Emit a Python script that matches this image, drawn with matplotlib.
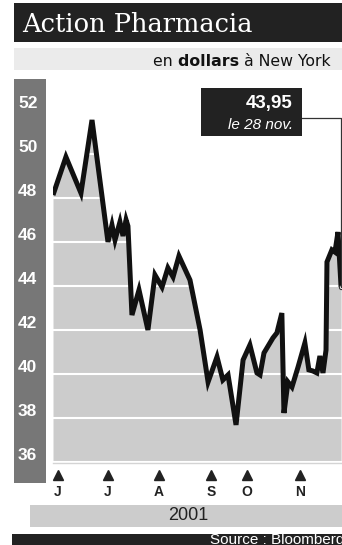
import matplotlib
matplotlib.use("Agg")
import matplotlib.pyplot as plt
from matplotlib.patches import Rectangle
from matplotlib.lines import Line2D
import matplotlib.transforms as mtransforms

# ---- data ----
days = [0, 5.5, 11.9, 16.6, 23.4, 25.1, 26.4, 28.5, 29.8, 31.1, 31.9, 33.6,
        36.6, 40.4, 43.4, 46.4, 48.9, 51.1, 53.6, 58.3, 62.6, 66.0, 69.8,
        72.3, 74.5, 77.9, 80.9, 83.8, 86.8, 88.1, 89.8, 93.6, 95.3, 97.4,
        98.3, 100.0, 101.7, 104.3, 107.2, 108.9, 110.6, 112.3, 113.6, 114.9,
        116.2, 116.6, 118.7, 120.0, 121.3, 122.6]
prices = [48.12, 49.85, 48.21, 51.53, 45.99, 46.76, 46.08, 46.9, 46.26, 46.99,
          46.71, 42.67, 43.81, 41.99, 44.49, 43.94, 44.81, 44.4, 45.35, 44.26,
          41.99, 39.63, 40.77, 39.72, 39.95, 37.68, 40.63, 41.31, 40.04, 39.95,
          40.95, 41.63, 41.86, 42.76, 38.22, 39.63, 39.4, 40.31, 41.4, 40.18,
          40.13, 40.04, 40.81, 40.04, 41.08, 45.08, 45.63, 45.53, 46.44, 43.95]
yticks = [36, 38, 40, 42, 44, 46, 48, 50, 52]
month_pos = [2.1, 23.4, 45.1, 67.2, 82.6, 105.1]
month_labels = ["J", "J", "A", "S", "O", "N"]
title = "Action Pharmacia"
year_label = "2001"
last_value_label = "43,95"
last_date_label = "le 28 nov."
source = "Source : Bloomberg"

W, H = 342, 545
fig = plt.figure(figsize=(W / 100, H / 100), dpi=100)
fig.patch.set_facecolor("white")


def fx(x):
    return x / W


def fy(y):
    return 1 - y / H


def prect(x0, y0, x1, y1, color, z=0):
    r = Rectangle((fx(x0), fy(y1)), (x1 - x0) / W, (y1 - y0) / H,
                  transform=fig.transFigure, facecolor=color, edgecolor="none",
                  zorder=z)
    fig.patches.append(r)
    return r


# title bar
prect(14, 3, 342, 42, "#222222")
fig.text(fx(22), fy(32.5), title, family="DejaVu Serif", size=18.5,
         color="white", va="baseline", ha="left")

# subtitle bar
prect(14, 48, 342, 70, "#ebebeb")
renderer = fig.canvas.get_renderer()
sub_parts = [("à New York", "normal"), ("dollars ", "bold"), ("en ", "normal")]
xr = 331
for txt, wt in sub_parts:
    t = fig.text(fx(xr), fy(66.5), txt, family="DejaVu Sans", size=11.3,
                 weight=wt, color="#111111", ha="right", va="baseline")
    bb = t.get_window_extent(renderer=renderer)
    xr -= bb.width

# left band
prect(14, 79, 46, 483, "#777777")

# main axes
ax_l, ax_t, ax_r, ax_b = 53, 81, 342, 463
ax = fig.add_axes([fx(ax_l), fy(ax_b), (ax_r - ax_l) / W, (ax_b - ax_t) / H])
ax.set_facecolor("white")
ymin, ymax = 35.95, 53.3
ax.set_xlim(0, 123)
ax.set_ylim(ymin, ymax)

ax.fill_between(days, prices, ymin, color="#cccccc", lw=0, zorder=1)
for v in yticks:
    ax.axhline(v, color="white", lw=1.5, zorder=2)
ax.plot(days, prices, color="#111111", lw=3.6, solid_joinstyle="miter",
        solid_capstyle="butt", zorder=3)

for s in ["top", "left", "right"]:
    ax.spines[s].set_visible(False)
ax.spines["bottom"].set_color("#d4d4d4")
ax.spines["bottom"].set_linewidth(1.0)
ax.set_xticks([])
ax.set_yticks([])

# y labels on the left band
ytrans = mtransforms.blended_transform_factory(fig.transFigure, ax.transData)
for v in yticks:
    fig.text(fx(18), v + 0.3, str(v), transform=ytrans, family="Liberation Sans",
             weight="bold", size=12.5, color="white", ha="left", va="center")

# month markers
xtrans = mtransforms.blended_transform_factory(ax.transData, ax.transAxes)
tri_y = -(475 - ax_b) / (ax_b - ax_t)
lab_y = -(492 - ax_b) / (ax_b - ax_t)
ax.plot(month_pos, [tri_y] * len(month_pos), transform=xtrans, ls="none",
        marker="^", ms=6.5, color="#222222", clip_on=False)
for p, lab in zip(month_pos, month_labels):
    ax.text(p, lab_y, lab, transform=xtrans, family="Liberation Sans",
            weight="bold", size=10, color="#222222", ha="center", va="center",
            clip_on=False)

# year bar
prect(30, 505, 342, 527, "#cccccc")
fig.text(fx(188), fy(516), year_label, family="Liberation Sans", size=13,
         color="#222222", ha="center", va="center")

# source bar
prect(12, 534, 342, 545, "#222222")
fig.text(fx(210), fy(544), source, family="Liberation Sans", size=11,
         color="white", ha="left", va="baseline")

# annotation box
prect(201, 88, 302, 136, "#222222", z=5)
fig.text(fx(293), fy(103), last_value_label, family="Liberation Sans",
         weight="bold", size=13.5, color="white", ha="right", va="center",
         zorder=6)
fig.text(fx(293), fy(125), last_date_label, family="Liberation Sans",
         style="italic", size=11, color="white", ha="right", va="center",
         zorder=6)

# connector
fig.canvas.draw()
px, py = ax.transData.transform((days[-1], prices[-1]))
xline = min(px, W - 0.8)
conn_x = [fx(302), xline / W, xline / W]
conn_y = [fy(118), fy(118), py / H]
fig.lines.append(Line2D(conn_x, conn_y, transform=fig.transFigure,
                        color="#333333", lw=0.9, zorder=4))
ax.plot([days[-1]], [prices[-1]], marker="o", ms=3, mfc="white",
        mec="#333333", mew=0.8, zorder=6, clip_on=False)

fig.savefig("out.png", dpi=100)
